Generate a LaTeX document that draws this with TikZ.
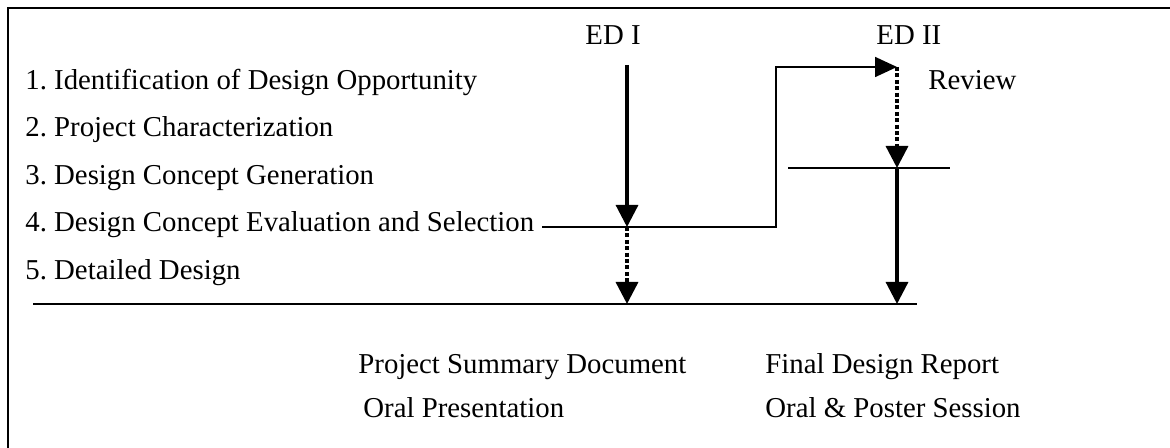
\documentclass[tikz,border=0pt]{standalone}
\usepackage{fontspec}
\setmainfont{Liberation Serif}
\usepackage{tikz}
\usetikzlibrary{arrows.meta}
\frenchspacing

\begin{document}
\begin{tikzpicture}[
      x=0.5pt, y=-0.5pt,
      every node/.style={inner sep=0pt, anchor=base west, font=\fontsize{14.4}{17}\selectfont},
      frame/.style={line width=1.3pt},
      thin line/.style={line width=0.85pt},
      flow/.style={line width=0.85pt, -{Triangle[length=11pt, width=10pt]}},
      main flow/.style={line width=1.6pt, -{Triangle[length=11pt, width=11pt]}},
      dot flow/.style={line width=1.7pt, dash pattern=on 2pt off 1.2pt, -{Triangle[length=11pt, width=11pt]}}
    ]
      \useasboundingbox (0,0) rectangle (1170,448);
      \draw[frame] (8,448) -- (8,8) -- (1170,8);

      \node (edI) at (585,45) {ED I};
      \node (edII) at (876,45) {ED II};
      \node (review) at (928,90) {Review};

      \node (opp) at (25,90) {1. Identification of Design Opportunity};
      \node (char) at (25,137) {2. Project Characterization};
      \node (gen) at (25,185) {3. Design Concept Generation};
      \node (eval) at (25,232) {4. Design Concept Evaluation and Selection};
      \node (detail) at (25,279) {5. Detailed Design};

      \node (summary) at (358,373) {Project Summary Document};
      \node (oral) at (363,417) {Oral Presentation};
      \node (final) at (765,373) {Final Design Report};
      \node (poster) at (765,417) {Oral \& Poster Session};

      \coordinate (edIstart) at (627,65);
      \coordinate (edIgate) at (627,227);
      \coordinate (edIend) at (627,304);
      \coordinate (selEnd) at (542,227);
      \coordinate (bendLow) at (776,227);
      \coordinate (bendHigh) at (776,67);
      \coordinate (edIIgate) at (897,67);
      \coordinate (reviewGate) at (897,168);
      \coordinate (edIIend) at (897,304);
      \coordinate (reviewL) at (788,168);
      \coordinate (reviewR) at (950,168);
      \coordinate (baseL) at (33,304);
      \coordinate (baseR) at (917,304);

      \draw[thin line] (baseL) -- (baseR);
      \draw[thin line] (reviewL) -- (reviewR);
      \draw[flow] (selEnd) -- (bendLow) -- (bendHigh) -- (edIIgate);
      \draw[main flow] (edIstart) -- (edIgate);
      \draw[dot flow] (edIgate) -- (edIend);
      \draw[dot flow] (edIIgate) -- (reviewGate);
      \draw[main flow] (reviewGate) -- (edIIend);
    \end{tikzpicture}
\end{document}
